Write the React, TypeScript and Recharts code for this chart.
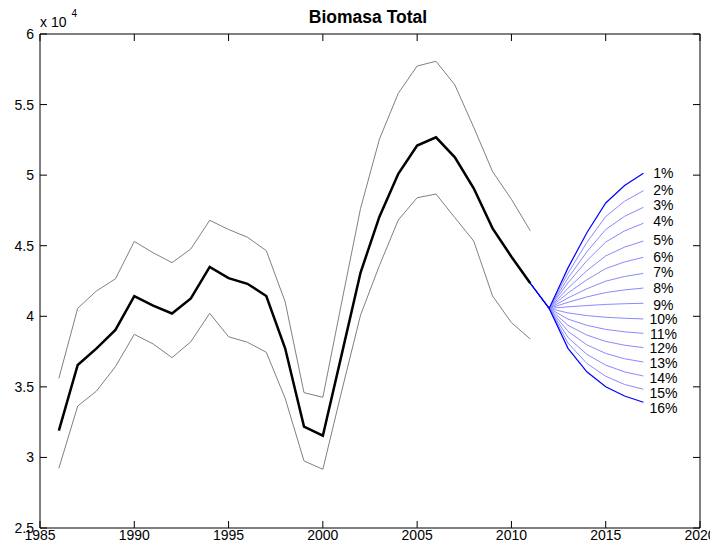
import React from "react"
import { LineChart, Line, XAxis, YAxis, ReferenceArea } from "recharts"

const years = [
  1986, 1987, 1988, 1989, 1990, 1991, 1992, 1993, 1994, 1995, 1996, 1997, 1998,
  1999, 2000, 2001, 2002, 2003, 2004, 2005, 2006, 2007, 2008, 2009, 2010, 2011,
]
const biomass = [
  31900, 36550, 37730, 39030, 41420, 40750, 40200, 41270, 43500, 42700, 42300, 41440, 37730,
  32180, 31540, 37300, 43100, 47060, 50100, 52100, 52680, 51260, 49070, 46230, 44220, 42340,
]
const upperBand = [
  35600, 40570, 41800, 42650, 45300, 44500, 43800, 44770, 46800, 46150, 45600, 44650, 41030,
  34590, 34260, 41000, 47650, 52550, 55800, 57730, 58070, 56390, 53390, 50250, 48290, 46060,
]
const lowerBand = [
  29230, 33640, 34710, 36430, 38720, 38040, 37070, 38200, 40210, 38550, 38160, 37450, 34190,
  29750, 29160, 34700, 40090, 43600, 46820, 48400, 48660, 46990, 45330, 41440, 39550, 38390,
]

// projections from 2011, one per harvest rate
const fanYears = [2011, 2012, 2013, 2014, 2015, 2016, 2017]
const fanLabels = [
  "1%", "2%", "3%", "4%", "5%", "6%", "7%", "8%",
  "9%", "10%", "11%", "12%", "13%", "14%", "15%", "16%",
]
const fan01 = [42340, 40560, 43430, 45920, 48030, 49270, 50130]
const fan02 = [42340, 40560, 43060, 45230, 47070, 48150, 48900]
const fan03 = [42340, 40560, 42710, 44570, 46150, 47080, 47720]
const fan04 = [42340, 40560, 42370, 43940, 45260, 46050, 46590]
const fan05 = [42340, 40560, 41990, 43230, 44280, 44900, 45330]
const fan06 = [42340, 40560, 41650, 42590, 43380, 43850, 44180]
const fan07 = [42340, 40560, 41300, 41950, 42490, 42820, 43040]
const fan08 = [42340, 40560, 40990, 41370, 41680, 41870, 42000]
const fan09 = [42340, 40560, 40670, 40760, 40840, 40890, 40920]
const fan10 = [42340, 40560, 40240, 40050, 39930, 39860, 39810]
const fan11 = [42340, 40560, 39800, 39360, 39070, 38900, 38790]
const fan12 = [42340, 40560, 39360, 38670, 38220, 37950, 37780]
const fan13 = [42340, 40560, 38930, 37980, 37370, 36990, 36760]
const fan14 = [42340, 40560, 38500, 37300, 36540, 36060, 35770]
const fan15 = [42340, 40560, 38100, 36660, 35750, 35170, 34830]
const fan16 = [42340, 40560, 37730, 36070, 35010, 34350, 33910]
const fanSeries = [
  fan01, fan02, fan03, fan04, fan05, fan06, fan07, fan08,
  fan09, fan10, fan11, fan12, fan13, fan14, fan15, fan16,
]

const xTicks = [1985, 1990, 1995, 2000, 2005, 2010, 2015, 2020]
const yTicks = [25000, 30000, 35000, 40000, 45000, 50000, 55000, 60000]

const W = 710
const H = 534
const PLOT_TOP = 26
const PLOT_LEFT = 32
const PLOT_RIGHT = 692
const TICK = 7
const FONT = "'Liberation Sans', Arial, Helvetica, sans-serif"
// small vertical nudges (px) so the rate labels don't collide, as in the original
const labelNudge = [-0.5, -0.5, -2, -2, -1.5, -0.5, -1, -0.5, 1.5, 0.5, 0.5, 0.5, 0.5, 2.5, 4, 6]

const toRows = (xs: number[], vs: number[]) => xs.map((year, i) => ({ year, v: vs[i] }))

const XTick = (props: any) => {
  const { x, y, payload } = props
  return (
    <g>
      <line x1={x} y1={y} x2={x} y2={y - TICK} stroke="#000" />
      <line x1={x} y1={PLOT_TOP} x2={x} y2={PLOT_TOP + TICK} stroke="#000" />
      <text x={x} y={y + 12} textAnchor="middle" fontSize={14} fontFamily={FONT} fill="#000">
        {payload.value}
      </text>
    </g>
  )
}

const YTick = (props: any) => {
  const { x, y, payload } = props
  return (
    <g>
      <line x1={x} y1={y} x2={x + TICK} y2={y} stroke="#000" />
      <line x1={PLOT_RIGHT - TICK} y1={y} x2={PLOT_RIGHT} y2={y} stroke="#000" />
      <text x={x - 6} y={y + 5} textAnchor="end" fontSize={14} fontFamily={FONT} fill="#000">
        {payload.value / 10000}
      </text>
    </g>
  )
}

const fanLabel = (i: number, last: number) => (props: any) => {
  if (props.index !== last) return null
  return (
    <text
      x={props.x + 20}
      y={props.y + 5 + labelNudge[i]}
      textAnchor="middle"
      fontSize={14}
      fontFamily={FONT}
      fill="#000"
    >
      {fanLabels[i]}
    </text>
  )
}

export default function App() {
  const last = fanYears.length - 1
  const middle = fanSeries.map((s, i) => ({ s, i })).filter(({ i }) => i > 0 && i < fanSeries.length - 1)
  const edges = [0, fanSeries.length - 1]

  return (
    <div style={{ position: "relative", width: W, height: H }}>
      <LineChart
        width={W}
        height={H}
        margin={{ top: PLOT_TOP, right: W - PLOT_RIGHT, bottom: 0, left: 0 }}
        style={{ overflow: "visible" }}
      >
        <XAxis
          dataKey="year"
          type="number"
          domain={[1985, 2020]}
          ticks={xTicks}
          axisLine={false}
          tickLine={false}
          tickSize={0}
          tickMargin={0}
          height={14}
          tick={<XTick />}
          allowDuplicatedCategory={false}
        />
        <YAxis
          type="number"
          domain={[25000, 60000]}
          ticks={yTicks}
          axisLine={false}
          tickLine={false}
          tickSize={0}
          tickMargin={0}
          width={PLOT_LEFT}
          tick={<YTick />}
        />
        <ReferenceArea x1={1985} x2={2020} y1={25000} y2={60000} fill="none" stroke="#000" strokeWidth={1} />

        <Line data={toRows(years, upperBand)} dataKey="v" stroke="#808080" strokeWidth={1} dot={false} isAnimationActive={false} />
        <Line data={toRows(years, lowerBand)} dataKey="v" stroke="#808080" strokeWidth={1} dot={false} isAnimationActive={false} />
        <Line data={toRows(years, biomass)} dataKey="v" stroke="#000" strokeWidth={2.5} dot={false} isAnimationActive={false} />

        {middle.map(({ s, i }) => (
          <Line
            key={fanLabels[i]}
            data={toRows(fanYears, s)}
            dataKey="v"
            stroke="#8a8aff"
            strokeWidth={1}
            dot={false}
            isAnimationActive={false}
            label={fanLabel(i, last)}
          />
        ))}
        {edges.map((i) => (
          <Line
            key={fanLabels[i]}
            data={toRows(fanYears, fanSeries[i])}
            dataKey="v"
            stroke="#0000ff"
            strokeWidth={1.2}
            dot={false}
            isAnimationActive={false}
            label={fanLabel(i, last)}
          />
        ))}
      </LineChart>

      <svg width={W} height={H} style={{ position: "absolute", top: 0, left: 0, pointerEvents: "none", overflow: "visible" }}>
        <text x={360} y={15} textAnchor="middle" fontSize={17.5} fontWeight="bold" fontFamily={FONT} fill="#000">
          Biomasa Total
        </text>
        <text x={32} y={19} fontSize={14} fontFamily={FONT} fill="#000">
          x 10
        </text>
        <text x={63.5} y={9.3} fontSize={10} fontFamily={FONT} fill="#000">
          4
        </text>
      </svg>
    </div>
  )
}
